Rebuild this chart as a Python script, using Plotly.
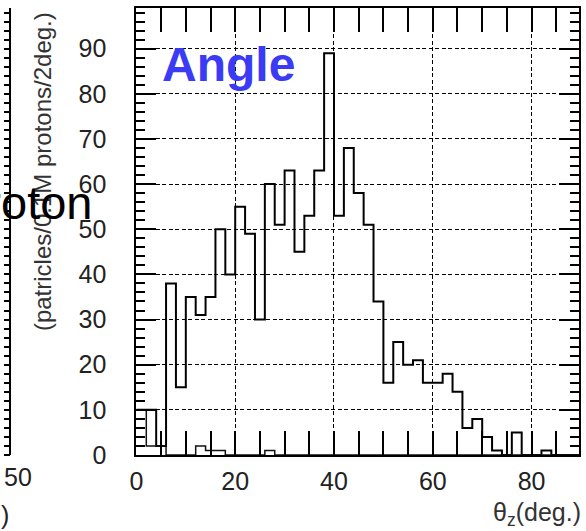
import numpy as np
import plotly.graph_objects as go

# Angular distribution, 2-degree bins from 0 to 90 deg
bin_width = 2
bin_low = list(range(0, 90, 2))
counts = [10, 10, 2, 38, 15, 35, 31, 35, 50, 40,
          55, 49, 30, 60, 51, 63, 45, 53, 63, 89,
          53, 68, 58, 51, 34, 16, 25, 20, 21, 16,
          16, 18, 14, 6, 8, 4, 1, 0, 5, 0,
          0, 1, 0, 0, 0]
# second (sparse) component
counts_sub = [10, 2, 2, 0, 0, 0, 2, 1, 1, 0,
              0, 0, 0, 1, 0, 0, 0, 0, 0, 0,
              0, 0, 0, 0, 0, 0, 0, 0, 0, 0,
              0, 0, 0, 0, 0, 0, 0, 0, 0, 0,
              0, 0, 0, 0, 0]

y_ticks = list(range(0, 100, 10))
x_ticks = [0, 20, 40, 60, 80]
x_range = [0, 89.6]
y_range = [0, 99]


def step(lows, vals):
    edges = list(lows) + [lows[-1] + bin_width]
    return edges, list(vals) + [vals[-1]]


W, H = 586, 531
ml, mr, mt, mb = 0, 7, 8, 76
pw = W - ml - mr
ph = H - mt - mb


def px(x):
    return x / pw


def py(y):
    return (H - mb - y) / ph


fig = go.Figure()

xs, ys = step(bin_low, counts_sub)
fig.add_trace(go.Scatter(x=xs, y=ys, mode="lines", line_shape="hv",
                         line=dict(color="#111", width=1.5),
                         yaxis="y2", hoverinfo="skip", showlegend=False))
xs, ys = step(bin_low, counts)
fig.add_trace(go.Scatter(x=xs, y=ys, mode="lines", line_shape="hv",
                         line=dict(color="black", width=2),
                         hoverinfo="skip", showlegend=False))

FONT = "Liberation Sans, Arial, sans-serif"
tick_font = dict(family=FONT, size=25, color="#222")

fig.update_layout(
    width=W, height=H,
    margin=dict(l=ml, r=mr, t=mt, b=mb),
    paper_bgcolor="white", plot_bgcolor="white",
    showlegend=False,
    xaxis=dict(
        domain=[131 / pw, 1], range=x_range,
        tickvals=x_ticks, ticks="inside", ticklen=24, tickwidth=1.5, tickcolor="black",
        showline=True, linewidth=2, linecolor="black", mirror="allticks",
        showgrid=True, gridcolor="black", gridwidth=1.3, griddash="4px,2.5px",
        zeroline=False, tickfont=tick_font, ticklabelstandoff=3,
        minor=dict(dtick=5, ticks="inside", ticklen=12, tickwidth=1.5,
                   tickcolor="black", showgrid=False),
    ),
    yaxis=dict(
        range=y_range, tickvals=y_ticks,
        ticks="inside", ticklen=20, tickwidth=1.5, tickcolor="black",
        showline=True, linewidth=2, linecolor="black", mirror="allticks",
        showgrid=True, gridcolor="black", gridwidth=1.3, griddash="4px,2.5px",
        zeroline=False, tickfont=tick_font, ticklabelstandoff=23,
        minor=dict(dtick=2, ticks="inside", ticklen=9, tickwidth=1.5,
                   tickcolor="black", showgrid=False),
    ),
    yaxis2=dict(
        overlaying="y", anchor="free", position=3 / pw, side="left",
        range=y_range, dtick=2, ticks="outside", ticklen=5, tickwidth=1.5,
        tickcolor="black", showticklabels=False, showgrid=False, zeroline=False,
        showline=True, linewidth=2, linecolor="black",
    ),
)

fig.add_shape(type="line", xref="paper", yref="paper",
              x0=0, x1=px(3), y0=0, y1=0, line=dict(color="black", width=2))

annos = [
    dict(text="<b>Angle</b>", x=px(155), y=py(64), xanchor="left", yanchor="middle",
         font=dict(family=FONT, size=48, color="#3b3bf5")),
    dict(text="(patricles/0.1M protons/2deg.)", x=px(36), y=py(10), textangle=-90,
         xanchor="center", yanchor="top",
         font=dict(family=FONT, size=24, color="#333")),
    dict(text="Proton", x=px(88), y=py(202), xanchor="right", yanchor="middle",
         font=dict(family=FONT, size=47, color="black")),
    dict(text="θ<sub>z</sub>(deg.)", x=px(583), y=py(514), xanchor="right", yanchor="middle",
         font=dict(family=FONT, size=25, color="#333")),
    dict(text="50", x=px(11.5), y=py(477), xanchor="center", yanchor="middle",
         font=tick_font),
    dict(text=")", x=px(4), y=py(515), xanchor="right", yanchor="middle",
         font=tick_font),
]
for a in annos:
    fig.add_annotation(xref="paper", yref="paper", showarrow=False, **a)

fig.write_html("out.html")
